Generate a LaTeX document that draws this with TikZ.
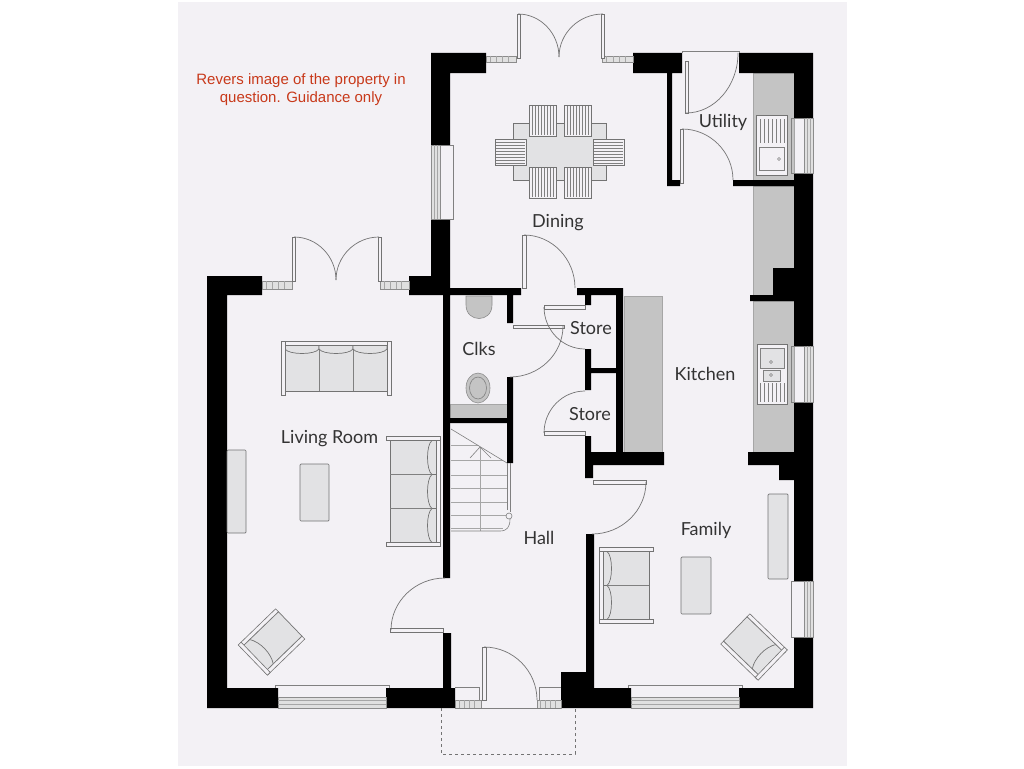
\documentclass[tikz,border=0pt]{standalone}
\usepackage{fontspec}
\setmainfont{Lato}
\newfontfamily\notefont{Liberation Sans}
\usetikzlibrary{calc}
\definecolor{paper}{HTML}{F3F1F5}
\definecolor{counter}{HTML}{C4C4C4}
\definecolor{furn}{HTML}{E2E2E4}
\definecolor{noteRed}{HTML}{C8391A}
\tikzset{
  wall/.style={fill=black},
  thin line/.style={draw=black!50,line width=0.6pt},
  hatch line/.style={draw=black!35,line width=0.6pt},
  leaf/.style={draw=black!55,fill=paper,line width=0.6pt},
  swingline/.style={draw=black!55,line width=0.7pt},
  unit/.style={fill=counter,draw=black!35,line width=0.5pt},
  furniture/.style={fill=furn,draw=black!55,line width=0.7pt},
  pane/.style={draw=black!45,fill=black!12,line width=0.5pt},
  roomlabel/.style={text=black!80,font=\fontsize{18}{20}\selectfont,inner sep=0pt},
}
% door swing: free end, corner, hinge end
\newcommand{\swing}[3]{\draw[swingline] (#1) .. controls ($(#1)!0.55!(#2)$) and ($(#3)!0.55!(#2)$) .. (#3);}
% sofa: centre, seats, rotation
\newcommand{\sofa}[3]{%
\begin{scope}[shift={(#1)},rotate=#3]
\pgfmathsetmacro{\half}{#2*17+4}
\filldraw[furniture] (-\half,-23) rectangle (\half,23);
\foreach \s in {1,...,#2}{
  \pgfmathsetmacro{\xa}{-\half+4+(\s-1)*34}
  \pgfmathsetmacro{\xb}{\xa+34}
  \draw[furniture] (\xa,-23) -- (\xa,-19) .. controls (\xa+4,-13) and (\xb-4,-13) .. (\xb,-19) -- (\xb,-23);
  \draw[thin line] (\xb,-23) -- (\xb,23);
}
\filldraw[leaf] (-\half,-27) rectangle (\half,-23);
\filldraw[leaf] (-\half,-27) rectangle (-\half+4,27);
\filldraw[leaf] (\half-4,-27) rectangle (\half,27);
\end{scope}}
% armchair: centre, rotation
\newcommand{\armchair}[2]{%
\begin{scope}[shift={(#1)},rotate=#2]
\filldraw[furniture] (-17,-26) rectangle (17,22);
\draw[furniture] (-17,22) -- (-17,14) .. controls (-8,8) and (8,8) .. (17,14) -- (17,22);
\filldraw[leaf] (-21,-26) rectangle (-17,26);
\filldraw[leaf] (17,-26) rectangle (21,26);
\filldraw[leaf] (-21,22) rectangle (21,26);
\end{scope}}
\begin{document}
\begin{tikzpicture}[x=1pt,y=-1pt]
\useasboundingbox (0,0) rectangle (1024,768);
\fill[paper] (178,2) rectangle (847,766);

% worktops
\filldraw[unit] (753,73) rectangle (794,180);
\filldraw[unit] (753,186) -- (794,186) -- (794,268) -- (773,268) -- (773,295) -- (753,295) -- cycle;
\filldraw[unit] (753,301) rectangle (794,452);
\filldraw[unit] (624,296) rectangle (662,452);
\filldraw[unit] (450,404) rectangle (507,418);

% outer walls
\fill[wall] (207,276) -- (262,276) -- (262,295) -- (227,295) -- (227,688) -- (278,688) -- (278,708) -- (207,708) -- cycle;
\fill[wall] (386,688) -- (443,688) -- (443,633) -- (451,633) -- (451,688) -- (455,688) -- (455,708) -- (386,708) -- cycle;
\fill[wall] (409,276) -- (431,276) -- (431,219) -- (450,219) -- (450,288) -- (521,288) -- (521,295) -- (513,295) -- (513,323) -- (507,323) -- (507,295) -- (450,295) -- (450,578) -- (443,578) -- (443,295) -- (409,295) -- cycle;
\fill[wall] (431,53) -- (486,53) -- (486,73) -- (450,73) -- (450,145) -- (431,145) -- cycle;
\fill[wall] (633,53) -- (682,53) -- (682,73) -- (672,73) -- (672,180) -- (680,180) -- (680,186) -- (667,186) -- (667,73) -- (633,73) -- cycle;
\fill[wall] (739,53) -- (813,53) -- (813,118) -- (794,118) -- (794,73) -- (739,73) -- cycle;
\fill[wall] (733,180) -- (794,180) -- (794,173) -- (813,173) -- (813,346) -- (794,346) -- (794,301) -- (750,301) -- (750,295) -- (773,295) -- (773,268) -- (794,268) -- (794,186) -- (733,186) -- cycle;
\fill[wall] (748,452) -- (794,452) -- (794,402) -- (813,402) -- (813,581) -- (794,581) -- (794,480) -- (779,480) -- (779,465) -- (748,465) -- cycle;
\fill[wall] (794,637) -- (813,637) -- (813,708) -- (739,708) -- (739,688) -- (794,688) -- cycle;
\fill[wall] (586,534) -- (594,534) -- (594,688) -- (631,688) -- (631,708) -- (561,708) -- (561,672) -- (586,672) -- cycle;

% inner walls
\fill[wall] (577,288) -- (623,288) -- (623,452) -- (664,452) -- (664,465) -- (593,465) -- (593,478) -- (585,478) -- (585,436) -- (591,436) -- (591,452) -- (616,452) -- (616,373) -- (591,373) -- (591,390) -- (585,390) -- (585,349) -- (591,349) -- (591,368) -- (616,368) -- (616,295) -- (591,295) -- (591,305) -- (585,305) -- (585,295) -- (577,295) -- cycle;
\fill[wall] (507,377) -- (513,377) -- (513,463) -- (507,463) -- (507,423) -- (450,423) -- (450,418) -- (507,418) -- cycle;

% windows
\foreach \xa/\xb in {278/386,631/739}{
  \filldraw[pane] (\xa,697) rectangle (\xb,708);
  \draw[hatch line] (\xa,700) -- (\xb,700) (\xa,704) -- (\xb,704);
  \draw[thin line] (\xa-3,688) -- (\xa-3,685) -- (\xb+3,685) -- (\xb+3,688);
}
\foreach \xa/\ya/\xb/\yb in {262/281/292/289,380/281/409/289,486/56/516/62,602/56/633/62,455/700/481/708,537/700/561/708}{
  \filldraw[pane] (\xa,\ya) rectangle (\xb,\yb);
  \foreach \t in {0.15,0.35,...,0.95}
    \draw[hatch line] ($(\xa,\ya)!\t!(\xb,\ya)$) -- ($(\xa,\yb)!\t!(\xb,\yb)$);
}
\foreach \ya/\yb in {145/219}{
  \filldraw[pane] (431,\ya) rectangle (440,\yb);
  \draw[hatch line] (434,\ya) -- (434,\yb) (437,\ya) -- (437,\yb);
  \draw[thin line] (440,\ya) -- (453,\ya) -- (453,\yb) -- (440,\yb);
}
\foreach \ya/\yb in {118/173,346/402,581/637}{
  \filldraw[pane] (804,\ya) rectangle (813,\yb);
  \draw[hatch line] (807,\ya) -- (807,\yb) (810,\ya) -- (810,\yb);
  \draw[thin line] (804,\ya) -- (791,\ya) -- (791,\yb) -- (804,\yb);
}
\draw[thin line] (455,688) -- (455,687) -- (479,687) -- (479,700);
\draw[thin line] (561,687) -- (539,687) -- (539,700);
\draw[thin line] (455,708) -- (561,708);

% doors
\filldraw[leaf] (517,14) rectangle (520,58);
\filldraw[leaf] (601,14) rectangle (604,58);
\swing{518,14}{559,14}{559,57}
\swing{603,14}{559,14}{559,57}
\filldraw[leaf] (292,237) rectangle (295,281);
\filldraw[leaf] (378,237) rectangle (381,281);
\swing{294,237}{336,237}{336,280}
\swing{379,237}{336,237}{336,280}
\filldraw[leaf] (685,61) rectangle (688,113);
\draw[thin line] (682,53) -- (682,51) -- (739,51) -- (739,53);
\swing{686,113}{738,113}{738,53}
\filldraw[leaf] (680,129) rectangle (683,183);
\swing{682,129}{733,129}{733,180}
\filldraw[leaf] (522,235) rectangle (526,288);
\swing{524,235}{575,235}{575,288}
\filldraw[leaf] (513,325) rectangle (564,328);
\swing{563,326}{563,377}{510,377}
\filldraw[leaf] (544,305) rectangle (585,309);
\swing{544,307}{544,349}{585,349}
\filldraw[leaf] (544,431) rectangle (585,435);
\swing{544,433}{544,391}{585,391}
\filldraw[leaf] (593,480) rectangle (646,484);
\swing{646,482}{646,534}{592,534}
\filldraw[leaf] (390,628) rectangle (443,632);
\swing{391,630}{391,578}{445,578}
\filldraw[leaf] (482,647) rectangle (486,700);
\swing{484,647}{537,647}{537,700}

% porch
\draw[draw=black!55,line width=0.6pt,dashed] (441,708) -- (441,754) -- (575,754) -- (575,708);

% stairs
\foreach \y/\x in {445/478,460/503,475/507,488/507,502/507,515/507,528/503}
  \draw[hatch line] (451,\y) -- (\x,\y);
\draw[hatch line] (480,447) -- (480,531);
\draw[thin line] (451,429) -- (507,463);
\draw[thin line] (470,458) -- (480,447) -- (491,458);
\draw[thin line] (507,463) -- (507,510) (510,463) -- (510,512);
\draw[thin line,fill=paper] (509,516) circle (3);
\draw[thin line] (510,519) .. controls (510,527) and (507,531) .. (500,531) -- (451,531);

% dining set
\filldraw[furniture] (513,123) rectangle (606,180);
\foreach \x in {529,564}{
  \foreach \y in {105,167}{
    \filldraw[leaf] (\x,\y) rectangle (\x+27,\y+31);
    \foreach \i in {3,6,...,24}
      \draw[thin line] (\x+\i,\y+1) -- (\x+\i,\y+30);
  }
}
\foreach \x in {495,593}{
  \filldraw[leaf] (\x,139) rectangle (\x+31,165);
  \foreach \i in {3,6,...,24}
    \draw[thin line] (\x+1,139+\i) -- (\x+30,139+\i);
}

% fixtures
\filldraw[leaf] (756,115) rectangle (787,175);
\foreach \x in {760,764,...,784}
  \draw[thin line] (\x,119) -- (\x,143);
\draw[thin line] (759,147) rectangle (784,170);
\draw[thin line] (779,159) circle (1.5);
\filldraw[leaf] (757,344) rectangle (787,404);
\filldraw[furn,draw=black!50,line width=0.6pt] (760,348) rectangle (784,368);
\filldraw[furn,draw=black!50,line width=0.6pt] (763,370) rectangle (780,381);
\draw[thin line] (771,362) circle (1.5) (771,375) circle (1.5);
\foreach \x in {760,764,...,784}
  \draw[thin line] (\x,383) -- (\x,402);
\filldraw[fill=counter,draw=black!45,line width=0.6pt] (466,296) -- (492,296) -- (492,305) .. controls (492,323) and (466,323) .. (466,305) -- cycle;
\filldraw[fill=counter,draw=black!45,line width=0.6pt] (478,388) ellipse (12 and 15);
\draw[thin line] (478,388) ellipse (8.5 and 11);

% furniture
\sofa{336,368}{3}{0}
\sofa{413,491.5}{3}{-90}
\sofa{626,585.5}{2}{90}
\filldraw[furniture,rounded corners=1pt] (227,450) rectangle (246,533);
\filldraw[furniture,rounded corners=1pt] (300,464) rectangle (329,521);
\filldraw[furniture,rounded corners=1pt] (681,557) rectangle (711,614);
\filldraw[furniture,rounded corners=1pt] (768,494) rectangle (788,579);
\armchair{271.5,642}{-46}
\armchair{754,647}{46}

% labels
\node[text=noteRed,align=center,font=\notefont\fontsize{15}{18}\selectfont,inner sep=0pt] (note) at (301,90) {Revers image of the property in\\question. Guidance only};
\node[roomlabel] (living) at (329.5,439) {Living Room};
\node[roomlabel] (dining) at (558,223) {Dining};
\node[roomlabel] (utility) at (723,122) {Utility};
\node[roomlabel] (clks) at (479,349) {Clks};
\node[roomlabel] (storeA) at (591,328) {Store};
\node[roomlabel] (storeB) at (590,414) {Store};
\node[roomlabel] (kitchen) at (705,374) {Kitchen};
\node[roomlabel] (family) at (706,530) {Family};
\node[roomlabel] (hall) at (539,538) {Hall};
\end{tikzpicture}
\end{document}
